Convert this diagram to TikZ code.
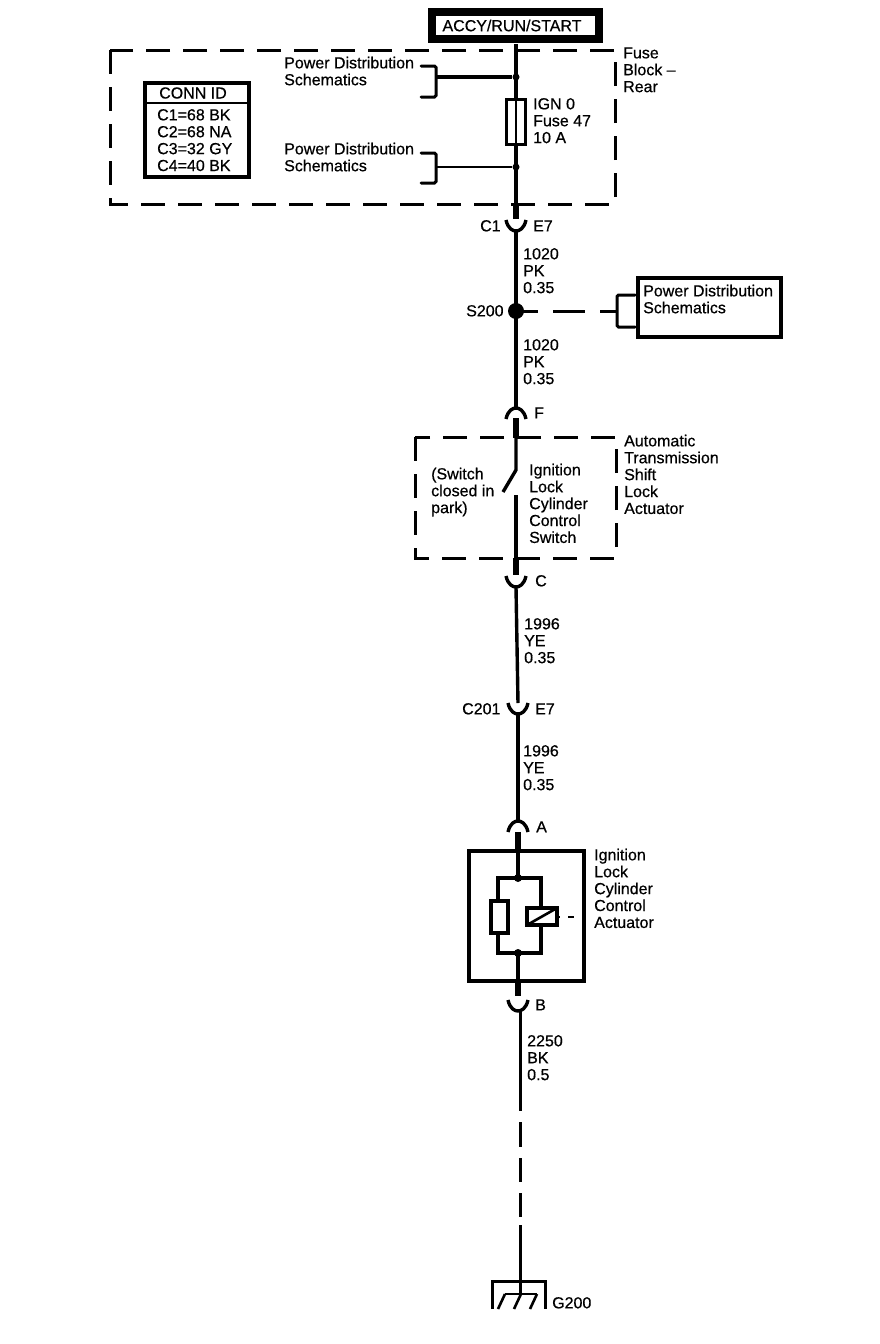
\documentclass[tikz,border=0pt]{standalone}
\usepackage{fontspec}
\setmainfont{Liberation Sans}[FakeBold=0.55]
\tikzset{
  wire/.style={line width=3.4pt,black},
  thinwire/.style={line width=3pt,black},
  stub/.style={line width=6.5pt,black},
  dashbox/.style={line width=3pt,black,dash pattern=on 24pt off 13pt},
  dashwire/.style={line width=3pt,black,dash pattern=on 25pt off 11pt on 24pt off 11pt on 24pt off 8pt on 80pt off 5pt},
  bracket/.style={line width=3pt,black,line cap=round,rounded corners=1.5pt},
  lbl/.style={anchor=north west,inner sep=0pt,align=left,font=\fontsize{16pt}{16.9pt}\selectfont,text=black},
  ctr/.style={inner sep=0pt,font=\fontsize{16pt}{16.9pt}\selectfont,text=black},
  dot/.style={circle,fill=black,inner sep=0pt},
  conup/.pic={\draw[line width=3.4pt] (-10,6) .. controls (-8,-3) and (-3,-5) .. (0,-5) .. controls (3,-5) and (8,-3) .. (10,6);},
  condown/.pic={\draw[line width=3.4pt] (-10,-6) .. controls (-8,3) and (-3,5) .. (0,5) .. controls (3,5) and (8,3) .. (10,-6);}
}
\newcommand{\lab}[4]{\node[lbl] (#1) at (#2,#3-6.7) {\strut #4};}
\begin{document}
\begin{tikzpicture}[x=1pt,y=-1pt]
\useasboundingbox (0,0) rectangle (880,1344);
\fill[white] (0,0) rectangle (880,1344);

% power source
\draw[line width=8pt] (432,12) rectangle (599,38.5);
\node[ctr] (src) at (512,25.5) {ACCY/RUN/START};

% fuse block
\draw[dashbox] (110,50) rectangle (615,204);
\draw[line width=3.2pt] (145,83) rectangle (249,177);
\draw[line width=2.5pt] (145,103) -- (249,103);
\node[ctr] (conn) at (193,93) {CONN ID};
\lab{ids}{157}{115}{C1=68 BK\\C2=68 NA\\C3=32 GY\\C4=40 BK}
\lab{pd1}{284}{63}{Power Distribution\\Schematics}
\lab{pd2}{284}{149}{Power Distribution\\Schematics}
\lab{fb}{623}{53}{Fuse\\Block –\\Rear}
\lab{ign}{533}{104}{IGN 0\\Fuse 47\\10 A}

% named wire points
\coordinate (top) at (516,44);
\coordinate (j1) at (516,77);
\coordinate (j2) at (516,167);
\coordinate (b1t) at (421,66);
\coordinate (b1m) at (436,77);
\coordinate (b1b) at (421,97);
\coordinate (b2t) at (421,153);
\coordinate (b2m) at (436,167);
\coordinate (b2b) at (421,183);
\coordinate (c1a) at (516,205);
\coordinate (c1b) at (516,219);
\coordinate (c1c) at (516,231);
\coordinate (fa) at (516,408);
\coordinate (fb1) at (516,418);
\coordinate (fb2) at (516,438);
\coordinate (swp) at (516,470);
\coordinate (swe) at (503,492);
\coordinate (sws) at (516,495);
\coordinate (ca) at (516,558);
\coordinate (cb) at (516,575);
\coordinate (cc) at (516,587);
\coordinate (d1) at (518,703);
\coordinate (d2) at (518,714);
\coordinate (aa) at (518,821);
\coordinate (ab) at (518,832);
\coordinate (ac) at (518,850);
\coordinate (j3) at (518,878);
\coordinate (j4) at (518,953);
\coordinate (ba) at (518,982);
\coordinate (bb) at (518,996);
\coordinate (bc) at (520,1011);
\coordinate (bd) at (520,1111);
\coordinate (be) at (520,1122);
\coordinate (ge) at (520,1294);

% fuse block wires
\draw[wire] (top) -- (c1a);
\node[dot,minimum size=7pt] (nj1) at (j1) {};
\node[dot,minimum size=7pt] (nj2) at (j2) {};
\node[draw,line width=2.6pt,fill=white,minimum width=19pt,minimum height=45pt,inner sep=0pt] (fuse) at (516,122) {};
\draw[line width=2.4pt] (fuse.north) -- (fuse.south);
\draw[bracket] (b1t) -| (b1m) |- (b1b);
\draw[bracket] (b2t) -| (b2m) |- (b2b);
\draw[wire] (b1m) -- (nj1);
\draw[line width=2.6pt] (b2m) -- (nj2);

% C1
\draw[stub] (c1a) -- (c1b);
\pic at (516,226) {condown};
\lab{c1}{480}{226}{C1}
\lab{e71}{533}{226}{E7}
\lab{w1}{523}{254}{1020\\PK\\0.35}
\draw[wire] (c1c) -- (fa);

% S200
\node[dot,minimum size=16pt] (s200) at (516,311) {};
\lab{s2}{466}{311}{S200}
\lab{w2}{523}{345}{1020\\PK\\0.35}
\coordinate (sb) at (617,311);
\draw[line width=3pt,dash pattern=on 22pt off 15pt on 32pt off 15pt on 20pt off 50pt] (s200.center) -- (sb);
\draw[bracket] (635,295) -| (617,327) -- (635,327);
\node[draw,line width=4pt,minimum width=143pt,minimum height=59pt,inner sep=0pt] (pdbox) at (709.5,307.5) {};
\lab{pd3}{643}{291}{Power Distribution\\Schematics}

% F and switch
\pic at (516,413) {conup};
\lab{f}{534}{413}{F}
\draw[stub] (fb1) -- (fb2);
\draw[dashbox] (415,437) rectangle (616,558);
\draw[wire,line join=round] (fb2) -- (swp) -- (swe);
\draw[wire] (sws) -- (ca);
\lab{sw1}{431}{474}{(Switch\\closed in\\park)}
\lab{sw2}{529}{470}{Ignition\\Lock\\Cylinder\\Control\\Switch}
\lab{at}{624}{441}{Automatic\\Transmission\\Shift\\Lock\\Actuator}

% C
\draw[stub] (ca) -- (cb);
\pic at (516,582) {condown};
\lab{cl}{535}{581}{C}
\draw[wire] (cc) -- (d1);
\lab{w3}{524}{624}{1996\\YE\\0.35}
\pic at (518,709) {condown};
\lab{c201}{462}{709}{C201}
\lab{e72}{535}{709}{E7}
\draw[wire] (d2) -- (aa);
\lab{w4}{523}{751}{1996\\YE\\0.35}

% actuator
\pic at (518,826) {conup};
\lab{al}{536}{827}{A}
\draw[stub] (ab) -- (ac);
\draw[line width=3.2pt] (469,851) rectangle (584,981);
\draw[wire] (ac) -- (j3);
\draw[wire] (498,878) rectangle (541,953);
\node[dot,minimum size=8pt] (nj3) at (j3) {};
\node[dot,minimum size=8pt] (nj4) at (j4) {};
\draw[wire,fill=white] (491,901) rectangle (508,933);
\draw[wire,fill=white] (527,908) rectangle (557,925);
\draw[line width=2.6pt] (527,925) -- (557,908);
\draw[line width=2.6pt,dash pattern=on 3pt off 8pt on 6pt off 8pt on 3pt off 10pt] (557,917) -- (584,917);
\lab{act}{594}{855}{Ignition\\Lock\\Cylinder\\Control\\Actuator}
\draw[wire] (j4) -- (ba);
\draw[stub] (ba) -- (bb);
\pic at (518,1006) {condown};
\lab{bl}{535}{1005}{B}
\lab{w5}{527}{1041}{2250\\BK\\0.5}

% ground wire
\draw[thinwire] (bc) -- (bd);
\draw[dashwire] (be) -- (ge);

% ground
\draw[line width=3pt] (492,1309) |- (545,1281) -- (545,1309);
\draw[line width=2.6pt] (505,1294) -- (537,1294);
\draw[line width=2.6pt] (505,1294) -- (498,1309);
\draw[line width=2.6pt] (521,1294) -- (514,1309);
\draw[line width=2.6pt] (537,1294) -- (530,1309);
\lab{g}{552}{1303}{G200}
\end{tikzpicture}
\end{document}
